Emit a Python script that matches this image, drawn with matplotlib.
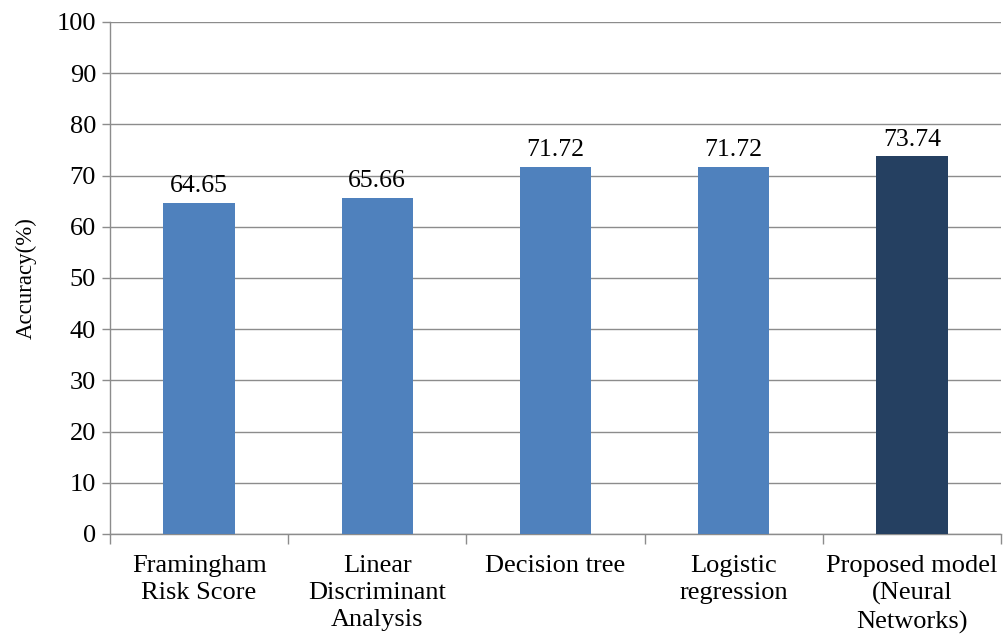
import matplotlib
matplotlib.use("Agg")
import matplotlib.pyplot as plt

categories = ["Framingham\nRisk Score", "Linear\nDiscriminant\nAnalysis",
              "Decision tree", "Logistic\nregression",
              "Proposed model\n(Neural\nNetworks)"]
accuracy = [64.65, 65.66, 71.72, 71.72, 73.74]
bar_colors = ["#4F81BD", "#4F81BD", "#4F81BD", "#4F81BD", "#254061"]
y_ticks = list(range(0, 101, 10))

plt.rcParams["font.family"] = ["Liberation Serif", "DejaVu Serif"]

fig = plt.figure(figsize=(10.04, 6.34), dpi=100)
ax = fig.add_axes([110 / 1004, 1 - 534 / 634, 891 / 1004, 512 / 634])

x = list(range(len(categories)))
ax.bar(x, accuracy, width=0.4, color=bar_colors, zorder=3)
for xi, v in zip(x, accuracy):
    ax.annotate(f"{v:.2f}", (xi, v), xytext=(0, 4), textcoords="offset points",
                ha="center", va="bottom", fontsize=18.5, zorder=4)

ax.set_xlim(-0.5, len(categories) - 0.5)
ax.set_ylim(0, 100)
ax.set_yticks(y_ticks)
ax.set_yticklabels([str(t) for t in y_ticks], fontsize=19)
ax.yaxis.grid(True, color="#8c8c8c", linewidth=1.0, zorder=0)
ax.set_axisbelow(True)

# category labels between boundary ticks
ax.set_xticks(x)
ax.set_xticklabels(categories, fontsize=19, linespacing=1.3, va="top")
ax.tick_params(axis="x", length=0, pad=15)
ax.set_xticks([i - 0.5 for i in range(len(categories) + 1)], minor=True)
ax.tick_params(axis="x", which="minor", length=7, color="#8c8c8c", width=1)
ax.tick_params(axis="y", length=6, color="#8c8c8c", width=1, pad=4)

for side in ("top", "right"):
    ax.spines[side].set_visible(False)
for side in ("left", "bottom"):
    ax.spines[side].set_color("#8c8c8c")
    ax.spines[side].set_linewidth(1.0)

ax.set_ylabel("Accuracy(%)", fontsize=16.5, labelpad=14)

fig.savefig("out.png", dpi=100)
